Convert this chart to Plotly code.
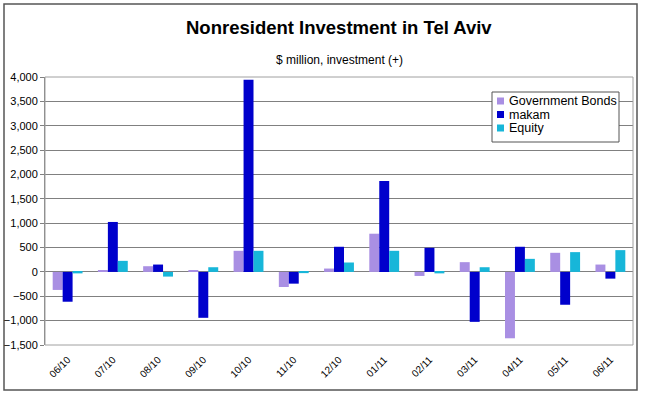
import plotly.graph_objects as go

months = ["06/10", "07/10", "08/10", "09/10", "10/10", "11/10", "12/10",
          "01/11", "02/11", "03/11", "04/11", "05/11", "06/11"]
gov_bonds = [-370, 25, 117, 28, 433, -310, 69, 784, -83, 200, -1362, 392, 151]
makam = [-612, 1025, 151, -942, 3942, -241, 516, 1865, 495, -1025, 516, -674, -138]
equity = [-30, 227, -96, 96, 433, -25, 193, 433, -30, 96, 268, 406, 447]

series_names = ["Government Bonds", "makam", "Equity"]
series_colors = ["#A98FE3", "#0000CC", "#17B6D9"]

y_ticks = [-1500, -1000, -500, 0, 500, 1000, 1500, 2000, 2500, 3000, 3500, 4000]

W, H = 647, 397
L, R, T, B = 45, 14, 77, 52
PW, PH = W - L - R, H - T - B


def px_x(p):
    return (p - L) / PW


def px_y(p):
    return (H - B - p) / PH


fig = go.Figure()
for name, vals, col in zip(series_names, [gov_bonds, makam, equity], series_colors):
    fig.add_trace(go.Bar(name=name, x=months, y=vals,
                         marker=dict(color=col, line=dict(width=0)),
                         showlegend=False))

font_family = "Liberation Sans, Arial, sans-serif"

annotations = [
    dict(text="<b>Nonresident Investment in Tel Aviv</b>", x=0.5, y=px_y(27),
         xref="paper", yref="paper", yanchor="middle", xanchor="center",
         showarrow=False, font=dict(size=18.5, family=font_family)),
    dict(text="$ million, investment (+)", x=0.5, y=px_y(60),
         xref="paper", yref="paper", yanchor="middle", xanchor="center",
         showarrow=False, font=dict(size=12, family=font_family)),
]
shapes = [
    # outer chart frame
    dict(type="rect", xref="paper", yref="paper",
         x0=px_x(4), x1=px_x(637), y0=px_y(390), y1=px_y(4),
         line=dict(color="#555555", width=1.5), layer="below"),
    # plot area border
    dict(type="rect", xref="paper", yref="paper", x0=0, x1=1, y0=0, y1=1,
         line=dict(color="#A0A0A0", width=1), layer="above"),
    # legend box
    dict(type="rect", xref="paper", yref="paper",
         x0=px_x(492), x1=px_x(619), y0=px_y(142), y1=px_y(92),
         line=dict(color="#555555", width=1), fillcolor="white", layer="above"),
]
for i, (name, col) in enumerate(zip(series_names, series_colors)):
    cy = 101 + i * 13.5
    shapes.append(dict(type="rect", xref="paper", yref="paper",
                       x0=px_x(497), x1=px_x(504), y0=px_y(cy + 3.5), y1=px_y(cy - 3.5),
                       line=dict(width=0), fillcolor=col, layer="above"))
    annotations.append(dict(text=name, x=px_x(507), y=px_y(cy), xref="paper", yref="paper",
                            xanchor="left", yanchor="middle", showarrow=False,
                            font=dict(size=12.5, family=font_family)))

fig.update_layout(
    width=W, height=H,
    margin=dict(l=L, r=R, t=T, b=B, autoexpand=False),
    paper_bgcolor="white", plot_bgcolor="white",
    barmode="group", bargap=0.34, bargroupgap=0.0,
    font=dict(family=font_family, color="black", size=11),
    showlegend=False,
    annotations=annotations,
    shapes=shapes,
)

fig.update_xaxes(
    showgrid=False, tickangle=-45, showline=False, ticks="",
    ticklabelstandoff=6,
    tickfont=dict(size=10, family=font_family), automargin=False,
)
fig.update_yaxes(
    range=[-1500, 4000], tickvals=y_ticks, tickformat=",",
    showgrid=True, gridcolor="#808080", gridwidth=1,
    zeroline=True, zerolinecolor="#808080", zerolinewidth=1,
    showline=True, linecolor="#808080", ticks="outside", ticklen=4,
    tickcolor="#808080", automargin=False,
    tickfont=dict(size=11, family=font_family),
)

fig.write_html("out.html",
               config={"displayModeBar": False},
               post_script="document.body.style.margin='0';document.body.style.padding='0';")
